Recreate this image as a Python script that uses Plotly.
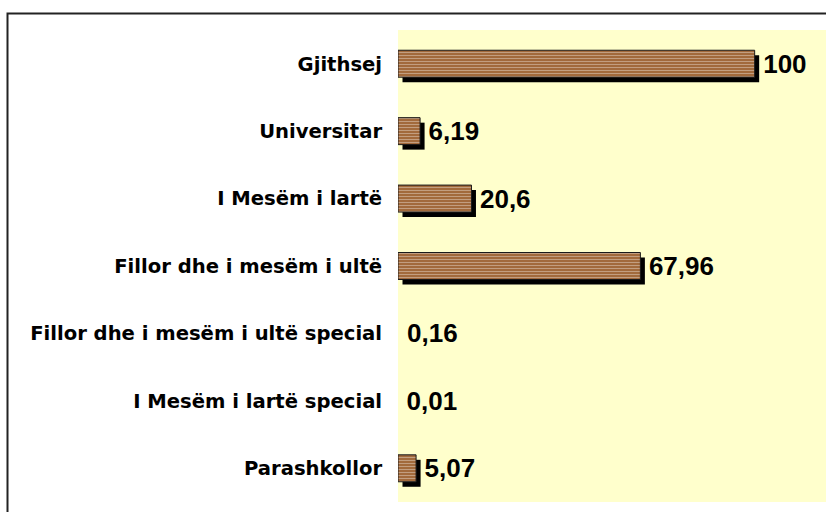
import plotly.graph_objects as go

# ---- data (top-to-bottom order as in the chart) ----
categories = [
    "Gjithsej",
    "Universitar",
    "I Mesëm i lartë",
    "Fillor dhe i mesëm i ultë",
    "Fillor dhe i mesëm i ultë special",
    "I Mesëm i lartë special",
    "Parashkollor",
]
values = [100, 6.19, 20.6, 67.96, 0.16, 0.01, 5.07]
value_labels = [f"{v:g}".replace(".", ",") for v in values]

# ---- layout geometry ----
W, H = 826, 512
M_L, M_R, M_T, M_B = 398, 0, 30, 10
X_MAX = 120
plot_w = W - M_L - M_R
plot_h = H - M_T - M_B
ppu = plot_w / X_MAX                 # pixels per value unit
ppc = plot_h / len(categories)       # pixels per category
SH_DX, SH_DY = 4.5, 5.0              # shadow offset in px
TXT_DX = 5.5                         # extra offset for value labels

cat_order = categories[::-1]         # bottom-to-top
y_rng = [-0.5, len(categories) - 0.5]

# bars narrower than ~2px are not visibly drawn in the original
visible = [v * ppu >= 2 for v in values]

fig = go.Figure()

# shadow bars (base subplot, shifted axes)
fig.add_trace(go.Bar(
    x=values, y=categories, orientation="h", width=0.4,
    marker=dict(color=["#000000" if s else "rgba(0,0,0,0)" for s in visible],
                line=dict(width=0)),
    xaxis="x", yaxis="y", hoverinfo="skip", showlegend=False,
))

# main wood bars
fig.add_trace(go.Bar(
    x=values, y=categories, orientation="h", width=0.4,
    marker=dict(
        color=["#A26A3C" if s else "rgba(0,0,0,0)" for s in visible],
        line=dict(color="#1a1a1a", width=[1 if s else 0 for s in visible]),
        pattern=dict(shape=["-" if s else "" for s in visible],
                     fgcolor="#C08A58", fgopacity=0.35, size=3, solidity=0.35),
    ),
    xaxis="x2", yaxis="y2", hoverinfo="skip", showlegend=False,
))

# value labels (invisible bars carrying text)
fig.add_trace(go.Bar(
    x=values, y=categories, orientation="h", width=0.4,
    marker=dict(color="rgba(0,0,0,0)", line=dict(width=0)),
    text=value_labels, textposition="outside", constraintext="none",
    cliponaxis=False,
    textfont=dict(family="Liberation Sans", size=26, color="#000000", weight="bold"),
    outsidetextfont=dict(family="Liberation Sans", size=26, color="#000000", weight="bold"),
    xaxis="x3", yaxis="y2", hoverinfo="skip", showlegend=False,
))

ax_common = dict(showgrid=False, zeroline=False, showline=False)

fig.update_layout(
    width=W, height=H,
    margin=dict(l=M_L, r=M_R, t=M_T, b=M_B, pad=0),
    paper_bgcolor="#FFFFFF",
    plot_bgcolor="#FFFFCC",
    barmode="group",
    showlegend=False,
    xaxis=dict(range=[-SH_DX / ppu, X_MAX - SH_DX / ppu], showticklabels=False,
               ticks="", anchor="y", **ax_common),
    yaxis=dict(type="category", categoryorder="array", categoryarray=cat_order,
               range=[y_rng[0] + SH_DY / ppc, y_rng[1] + SH_DY / ppc],
               showticklabels=False, ticks="", anchor="x", **ax_common),
    xaxis2=dict(range=[0, X_MAX], overlaying="x", anchor="y2",
                showticklabels=False, ticks="", **ax_common),
    yaxis2=dict(type="category", categoryorder="array", categoryarray=cat_order,
                range=y_rng, overlaying="y", anchor="x2", side="left",
                showticklabels=True, ticks="outside", ticklen=11,
                tickcolor="rgba(0,0,0,0)",
                tickfont=dict(family="DejaVu Sans", size=19.6, color="#000000",
                              weight="bold"),
                **ax_common),
    xaxis3=dict(range=[-TXT_DX / ppu, X_MAX - TXT_DX / ppu], overlaying="x",
                anchor="y2", showticklabels=False, ticks="", **ax_common),
)

# outer chart border (top and left visible, rest cut by the canvas)
fig.add_shape(
    type="rect", xref="paper", yref="paper",
    x0=(7.5 - M_L) / plot_w, x1=1.2,
    y0=-0.2, y1=(H - M_B - 13.5) / plot_h,
    line=dict(color="#222222", width=2), fillcolor="rgba(0,0,0,0)", layer="below",
)

fig.write_html(
    "out.html",
    config={"displayModeBar": False},
    post_script="document.body.style.margin='0';document.body.style.overflow='hidden';",
)
